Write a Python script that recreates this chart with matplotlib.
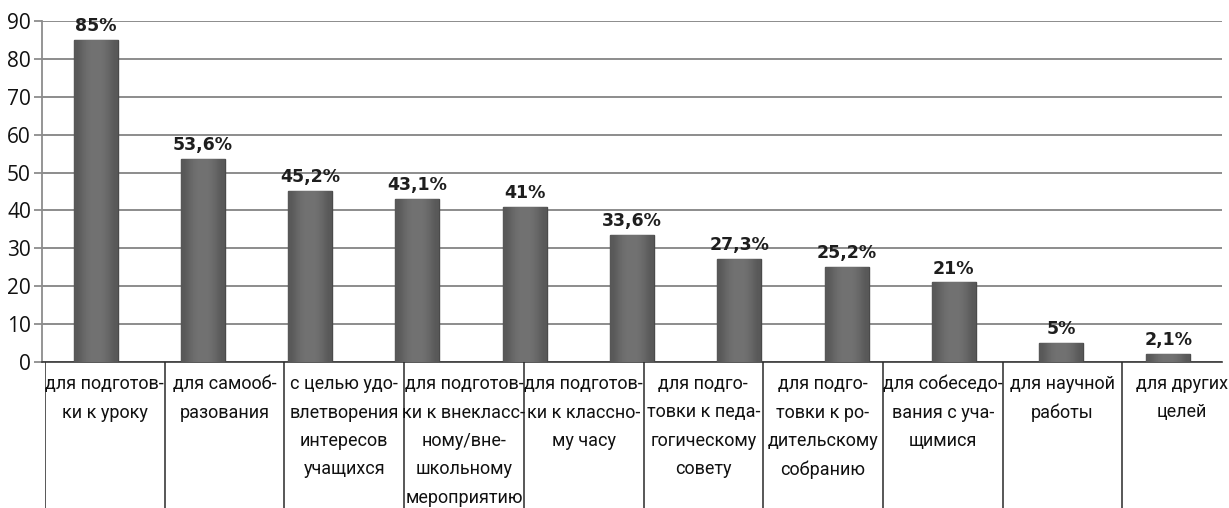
import matplotlib
matplotlib.use("Agg")
import matplotlib.pyplot as plt
import numpy as np
from matplotlib import font_manager

# ---- data ----
values = [85, 53.6, 45.2, 43.1, 41, 33.6, 27.3, 25.2, 21, 5, 2.1]
table_labels = [
    "для подготов-\nки к уроку",
    "для самооб-\nразования",
    "с целью удо-\nвлетворения\nинтересов\nучащихся",
    "для подготов-\nки к внекласс-\nному/вне-\nшкольному\nмероприятию",
    "для подготов-\nки к классно-\nму часу",
    "для подго-\nтовки к педа-\nгогическому\nсовету",
    "для подго-\nтовки к ро-\nдительскому\nсобранию",
    "для собеседо-\nвания с уча-\nщимися",
    "для научной\nработы",
    "для других\nцелей",
]
yticks = [0, 10, 20, 30, 40, 50, 60, 70, 80, 90]

# ---- fonts ----
names = {f.name for f in font_manager.fontManager.ttflist}
if "Liberation Sans Narrow" in names:
    narrow = dict(family=["Liberation Sans Narrow", "DejaVu Sans"])
    tsize = 14.5
else:
    narrow = dict(family=["Roboto", "DejaVu Sans"])
    tsize = 13
tick_family = ["Open Sans", "DejaVu Sans"]

W, H = 1229, 508
fig = plt.figure(figsize=(W / 100, H / 100), dpi=100)
fig.patch.set_facecolor("white")

# main chart axes (pixel layout)
x0, x1, ytop, ybase = 42, 1222, 21, 362
ax = fig.add_axes([x0 / W, (H - ybase) / H, (x1 - x0) / W, (ybase - ytop) / H])

grid_c = "#8c8c8c"
ax.set_yticks(yticks)
ax.yaxis.grid(True, color=grid_c, lw=1.4)
ax.set_axisbelow(True)
ax.tick_params(axis="y", length=6, width=1.3, color=grid_c, pad=2,
               labelsize=15, labelcolor="#111111")
for lab in ax.get_yticklabels():
    lab.set_family(tick_family)
ax.set_xticks([])
for s in ["top", "right"]:
    ax.spines[s].set_visible(False)
ax.spines["left"].set_color(grid_c)
ax.spines["left"].set_linewidth(1.3)
ax.spines["bottom"].set_color("#3a3a3a")
ax.spines["bottom"].set_linewidth(1.2)

xs = np.arange(len(values))
bars = ax.bar(xs, values, width=0.41, color="#6a6a6a", edgecolor="#4a4a4a",
              linewidth=1.0, zorder=3)

# subtle horizontal gradient on bars
grad = np.array([[0.34, 0.42, 0.45, 0.45, 0.42, 0.34]])
for b in bars:
    im = ax.imshow(grad, cmap="gray", vmin=0, vmax=1, aspect="auto",
                   extent=[b.get_x(), b.get_x() + b.get_width(), 0, b.get_height()],
                   interpolation="bicubic", zorder=3.5)
    im.set_clip_path(b)
ax.set_xlim(-0.5, len(values) - 0.5)
ax.set_ylim(0, 90)

for xi, v in zip(xs, values):
    txt = f"{v:g}".replace(".", ",") + "%"
    ax.annotate(txt, (xi, v), xytext=(0, 3.5), textcoords="offset points",
                ha="center", va="bottom", fontsize=12.5, fontweight="bold",
                family="DejaVu Sans", color="#1e1e1e", zorder=5)

# table of category labels below
tx0, cw = 45, 119.7
n = len(table_labels)
tax = fig.add_axes([tx0 / W, 0, n * cw / W, (H - ybase) / H])
tax.set_xlim(0, n)
tax.set_ylim(0, 1)
tax.axis("off")
tax.vlines(np.arange(n + 1), 0, 1, color="#2a2a2a", lw=1.1)
th = H - ybase
for k, lab in enumerate(table_labels):
    for i, line in enumerate(lab.split("\n")):
        ypix = 384 + 28.5 * i
        tax.text(k + 0.5, (H - ypix) / th, line, ha="center", va="center",
                 fontsize=tsize, color="#111111", **narrow)

fig.savefig("out.png", dpi=100)
